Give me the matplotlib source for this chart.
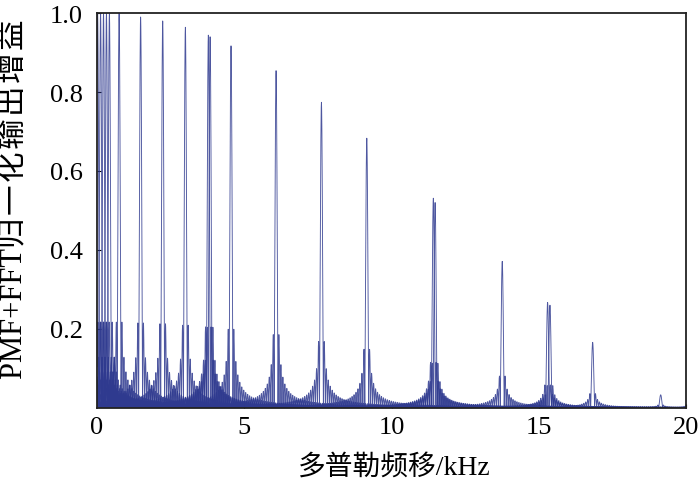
import numpy as np
import matplotlib
matplotlib.use("Agg")
import matplotlib.pyplot as plt

# -------------------------------
# Data: peak positions (kHz) and normalized peak gains
# -------------------------------
peak_freq = [0.02, 0.12, 0.22, 0.32, 0.42, 0.75, 1.48, 2.23, 3.00, 3.78, 3.84,
             4.55, 6.08, 7.62, 9.16, 11.42, 11.48, 13.76, 15.30, 15.38, 16.83,
             19.14, 20.10]
peak_gain = [1.0, 1.0, 1.0, 1.0, 1.0, 1.0, 0.99, 0.98, 0.964, 0.944, 0.94,
             0.917, 0.854, 0.774, 0.683, 0.531, 0.52, 0.371, 0.267, 0.26, 0.166,
             0.033, 0.03]
x_ticks = [0, 5, 10, 15, 20]
y_ticks = [0.2, 0.4, 0.6, 0.8, 1.0]
y_tick_labels = ["0.2", "0.4", "0.6", "0.8", "1.0"]

# coherent integration time (s) -> sinc main lobe width
T_int = 15e-3

# -------------------------------
# Plot
# -------------------------------
fonts = ["Liberation Serif", "Noto Sans CJK SC", "DejaVu Sans"]
plt.rcParams["font.family"] = fonts

fig = plt.figure(figsize=(7.0, 4.85), dpi=100)
ax = fig.add_axes([0.1386, 0.157, 0.8414, 0.814])

f = np.union1d(np.linspace(0, 20, 12001), peak_freq)
line_color = "#2f3a8f"
for fk, ak in zip(peak_freq, peak_gain):
    resp = ak * np.abs(np.sinc((f - fk) * 1e3 * T_int))
    ax.plot(f, resp, color=line_color, lw=0.65, alpha=0.85)

ax.set_xlim(0, 20)
ax.set_ylim(0, 1.0)
ax.set_xticks(x_ticks)
ax.set_xticklabels([str(v) for v in x_ticks])
ax.set_yticks(y_ticks)
ax.set_yticklabels(y_tick_labels)
ax.tick_params(direction="in", length=3, width=0.8, labelsize=19)
ax.tick_params(axis="y", pad=10)
ax.tick_params(axis="x", pad=6)
for s in ax.spines.values():
    s.set_linewidth(1.3)
    s.set_color("#222222")

hair = "\u200a"
ax.set_xlabel("多普勒频移/kHz", fontsize=20)
ax.set_ylabel("PMF+FFT" + hair.join("归一化输出增益"), fontsize=22)
ax.xaxis.set_label_coords(0.505, -0.115)
ax.yaxis.set_label_coords(-0.115, 0.53)

fig.savefig("out.png", dpi=100)
